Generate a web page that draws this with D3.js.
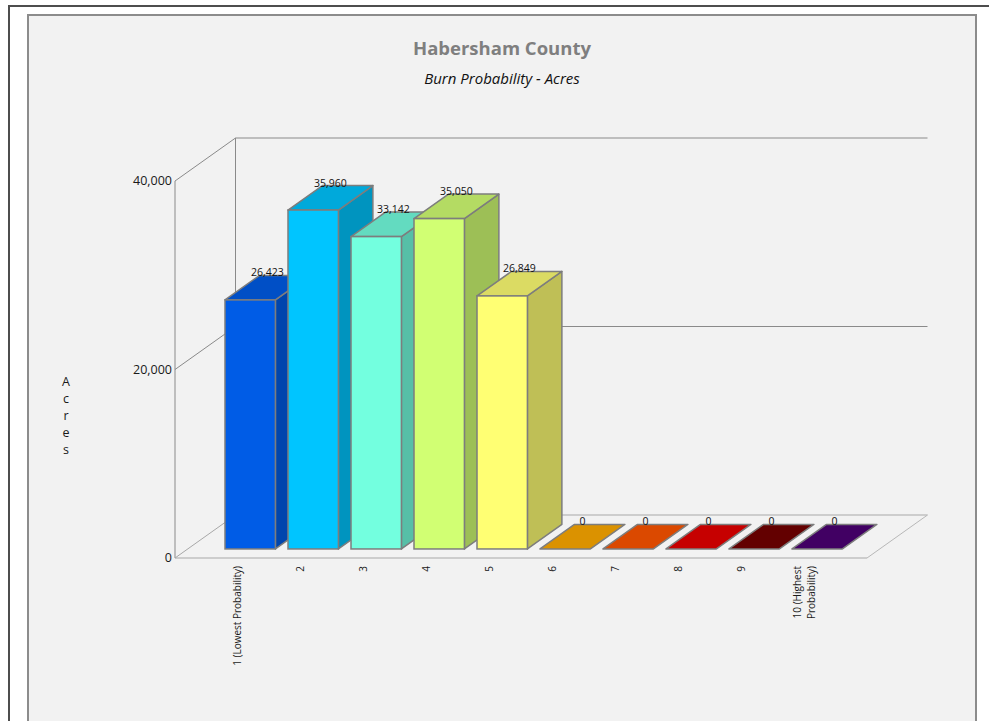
<!DOCTYPE html>
<html>
<head>
<meta charset="utf-8">
<script src="https://cdn.jsdelivr.net/npm/d3@7"></script>
<style>
  html, body { margin: 0; padding: 0; background: #fff; }
  svg { display: block; }
</style>
</head>
<body>
<svg id="chart" width="989" height="721"></svg>
<script>
// ---- data ----
const categories = ["1 (Lowest Probability)", "2", "3", "4", "5", "6", "7", "8", "9", "10 (Highest Probability)"];
const acres = [26423, 35960, 33142, 35050, 26849, 0, 0, 0, 0, 0];
const barColors = ["#005CE6", "#00C5FF", "#73FFDF", "#D1FF73", "#FFFF73", "#FFAA00", "#FF5500", "#E60000", "#730000", "#4C0073"];
const yTicks = [0, 20000, 40000];
const titleText = "Habersham County";
const subtitleText = "Burn Probability - Acres";
const yTitleText = "Acres";

// ---- layout ----
const W = 989, H = 721;
const svg = d3.select("#chart");
const fontFamily = "'Open Sans', 'DejaVu Sans', sans-serif";

// page frame and chart panel
svg.append("rect").attr("width", W).attr("height", H).attr("fill", "#fff");
svg.append("path").attr("d", `M9,${H} L9,6 L${W},6`)
  .attr("fill", "none").attr("stroke", "#4d4d4d").attr("stroke-width", 2);
svg.append("rect").attr("x", 28).attr("y", 15).attr("width", 948).attr("height", H + 20)
  .attr("fill", "#f2f2f2").attr("stroke", "#8c8c8c").attr("stroke-width", 2);

// titles
svg.append("text").attr("x", 502).attr("y", 55).attr("text-anchor", "middle")
  .attr("font-family", fontFamily).attr("font-weight", "bold").attr("font-size", 18.5)
  .attr("fill", "#7f7f7f").text(titleText);
svg.append("text").attr("x", 502).attr("y", 84).attr("text-anchor", "middle")
  .attr("font-family", fontFamily).attr("font-style", "italic").attr("font-size", 15)
  .attr("fill", "#111").text(subtitleText);

// scales on the front plane, plus a depth offset for the 3D box
const x = d3.scaleBand().domain(categories).range([175, 867])
  .paddingInner(0.2).paddingOuter(0.592);
const y = d3.scaleLinear().domain([0, 40000]).range([558, 181]);
const depth = { dx: 60.5, dy: -43 };
const off = z => [depth.dx * z, depth.dy * z];
const zFront = 0.21, zBack = 0.78;

const [x0, x1] = x.range();
const [bdx, bdy] = off(1);
const g = svg.append("g");

// back wall gridlines and floor back edge
const wallStroke = "#8a8a8a", floorStroke = "#a8a8a8";
g.selectAll("line.back").data(yTicks).join("line").attr("class", "back")
  .attr("x1", x0 + bdx).attr("x2", x1 + bdx)
  .attr("y1", d => y(d) + bdy).attr("y2", d => y(d) + bdy)
  .attr("stroke", d => d === 0 ? floorStroke : wallStroke).attr("stroke-width", 1);

// left wall
g.append("line").attr("x1", x0).attr("x2", x0).attr("y1", y(0)).attr("y2", y(40000))
  .attr("stroke", wallStroke);
g.append("line").attr("x1", x0 + bdx).attr("x2", x0 + bdx)
  .attr("y1", y(0) + bdy).attr("y2", y(40000) + bdy).attr("stroke", wallStroke);
g.selectAll("line.diag").data(yTicks).join("line").attr("class", "diag")
  .attr("x1", x0).attr("y1", d => y(d))
  .attr("x2", x0 + bdx).attr("y2", d => y(d) + bdy)
  .attr("stroke", d => d === 0 ? floorStroke : wallStroke);

// floor front edge and right edge
g.append("line").attr("x1", x0).attr("x2", x1).attr("y1", y(0)).attr("y2", y(0))
  .attr("stroke", floorStroke).attr("stroke-width", 1.2);
g.append("line").attr("x1", x1).attr("y1", y(0)).attr("x2", x1 + bdx).attr("y2", y(0) + bdy)
  .attr("stroke", "#b8b8b8");

// y tick labels
svg.selectAll("text.ytick").data(yTicks).join("text").attr("class", "ytick")
  .attr("x", x0 - 3).attr("y", d => y(d)).attr("dy", "0.35em")
  .attr("text-anchor", "end").attr("font-family", fontFamily).attr("font-size", 12.5)
  .attr("fill", "#1a1a1a").text(d => d3.format(",")(d));

// y axis title, stacked letters
svg.append("g").selectAll("text").data(yTitleText.split("")).join("text")
  .attr("x", 66).attr("y", (d, i) => 382 + i * 17).attr("dy", "0.35em")
  .attr("text-anchor", "middle").attr("font-family", fontFamily).attr("font-size", 12.5)
  .attr("fill", "#1a1a1a").text(d => d);

// x tick labels, rotated; long labels wrap onto two lines
const wrapLabel = s => {
  if (s.length <= 22) return [s];
  const k = s.lastIndexOf(" ");
  return [s.slice(0, k), s.slice(k + 1)];
};
const xl = svg.append("g").selectAll("g").data(categories).join("g")
  .attr("transform", d => `translate(${x(d) + x.bandwidth() / 2},566) rotate(-90)`);
xl.each(function (d) {
  const lines = wrapLabel(d);
  const n = lines.length;
  d3.select(this).selectAll("text").data(lines).join("text")
    .attr("x", 0).attr("y", (t, i) => (i - (n - 1) / 2) * 13.5).attr("dy", "0.35em")
    .attr("text-anchor", "end").attr("font-family", fontFamily).attr("font-size", 10)
    .attr("fill", "#1a1a1a").text(t => t);
});

// bars
const shade = (c, k) => { const r = d3.rgb(c); return d3.rgb(r.r * k, r.g * k, r.b * k).formatHex(); };
const [fx, fy] = off(zFront), [bx, by] = off(zBack);
const barStroke = "#7d7d7d";
const bars = g.append("g").selectAll("g").data(categories).join("g");
bars.each(function (cat, i) {
  const v = acres[i], col = barColors[i];
  const a = x(cat), b = a + x.bandwidth();
  const yv = y(v), y0 = y(0);
  const sel = d3.select(this);
  const poly = pts => "M" + pts.map(p => p.join(",")).join("L") + "Z";
  if (v > 0) {
    sel.append("path").attr("d", poly([[b + fx, yv + fy], [b + bx, yv + by], [b + bx, y0 + by], [b + fx, y0 + fy]]))
      .attr("fill", shade(col, 0.75)).attr("stroke", barStroke).attr("stroke-width", 1.5).attr("stroke-linejoin", "round");
  }
  sel.append("path").attr("d", poly([[a + fx, yv + fy], [b + fx, yv + fy], [b + bx, yv + by], [a + bx, yv + by]]))
    .attr("fill", shade(col, 0.86)).attr("stroke", barStroke).attr("stroke-width", 1.5).attr("stroke-linejoin", "round");
  if (v > 0) {
    sel.append("rect").attr("x", a + fx).attr("y", yv + fy).attr("width", b - a).attr("height", y0 - yv)
      .attr("fill", col).attr("stroke", barStroke).attr("stroke-width", 1.5);
  }
});

// value labels on the top face
const zMid = (zFront + zBack) / 2;
svg.append("g").selectAll("text").data(categories).join("text")
  .attr("x", d => x(d) + x.bandwidth() / 2 + off(zMid)[0])
  .attr("y", (d, i) => y(acres[i]) + by + 1)
  .attr("text-anchor", "middle").attr("font-family", fontFamily).attr("font-size", 10.5)
  .attr("fill", "#111").text((d, i) => d3.format(",")(acres[i]));
</script>
</body>
</html>
